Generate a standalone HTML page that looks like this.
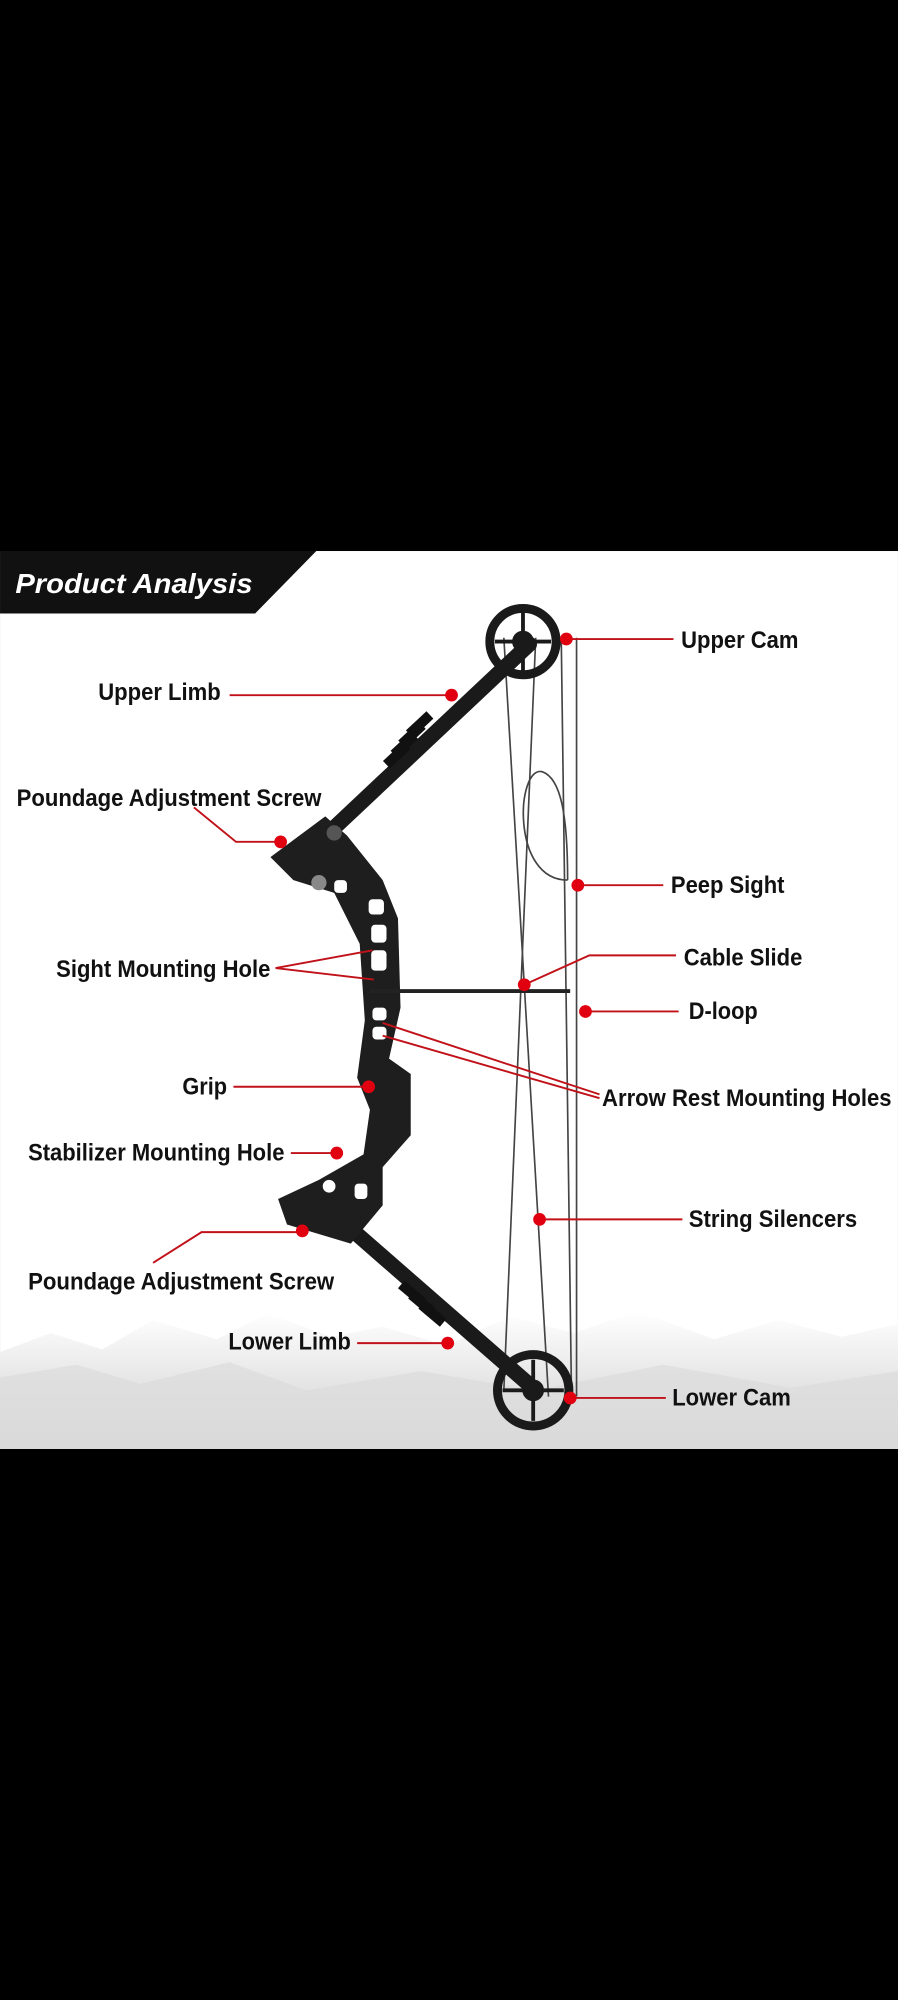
<!DOCTYPE html>
<html><head><meta charset="utf-8"><style>
html,body{margin:0;padding:0;background:#000;}
svg{display:block;}
text{font-family:"Liberation Sans",sans-serif;font-weight:bold;font-size:19px;fill:#111;}
</style></head><body>
<svg width="898" height="2000" viewBox="0 0 704 1568" xmlns="http://www.w3.org/2000/svg">
<defs>
<linearGradient id="mt" x1="0" y1="0" x2="0" y2="1">
<stop offset="0" stop-color="#fff"/><stop offset="0.5" stop-color="#e6e6e6"/><stop offset="1" stop-color="#d4d4d4"/>
</linearGradient>
</defs>
<rect x="0" y="0" width="704" height="1568" fill="#000"/>
<rect x="0" y="432" width="704" height="704" fill="#fff"/>
<path d="M0 1136 L0 1060 L40 1045 L80 1058 L120 1035 L170 1050 L210 1030 L260 1048 L300 1040 L350 1055 L400 1032 L450 1045 L500 1028 L560 1050 L610 1035 L660 1048 L704 1038 L704 1136 Z" fill="url(#mt)"/>
<path d="M0 1080 L60 1070 L110 1085 L180 1068 L240 1090 L330 1075 L420 1090 L520 1070 L620 1088 L704 1075 L704 1136 L0 1136Z" fill="#dcdcdc" opacity="0.7"/>
<polygon points="0,432 248,432 200,481 0,481" fill="#111"/>
<text x="12" y="465" textLength="186" lengthAdjust="spacingAndGlyphs" style="font-style:italic;font-size:22px;fill:#fff">Product Analysis</text>
<g stroke="#444" stroke-width="1.3" fill="none">
<line x1="440" y1="500" x2="448" y2="1092"/>
<line x1="452" y1="500" x2="452" y2="1095"/>
<line x1="395" y1="500" x2="430" y2="1095"/>
<line x1="420" y1="500" x2="395" y2="1090"/>
<path d="M445 690 C400 690 405 600 425 605 C440 610 445 640 445 690"/>
</g>
<g stroke="#1a1a1a" stroke-linecap="round" fill="none">
<line x1="245" y1="665" x2="415" y2="505" stroke-width="12"/>
<line x1="262" y1="952" x2="420" y2="1090" stroke-width="12"/>
</g>
<g fill="#111">
<rect x="318" y="564" width="22" height="8" transform="rotate(-43 329 568)"/>
<rect x="312" y="572" width="22" height="8" transform="rotate(-43 323 576)"/>
<rect x="306" y="580" width="22" height="8" transform="rotate(-43 317 584)"/>
<rect x="300" y="588" width="22" height="8" transform="rotate(-43 311 592)"/>
<rect x="312" y="1010" width="22" height="8" transform="rotate(40 323 1014)"/>
<rect x="320" y="1018" width="22" height="8" transform="rotate(40 331 1022)"/>
<rect x="328" y="1026" width="22" height="8" transform="rotate(40 339 1030)"/>
</g>
<path d="M212 672 L255 640 L272 655 L300 690 L312 720 L314 790 L305 830 L322 842 L322 890 L300 915 L300 945 L275 975 L225 960 L218 940 L250 925 L285 905 L290 870 L280 845 L286 800 L282 740 L262 700 L230 690 Z" fill="#1e1e1e"/>
<g fill="#fff">
<rect x="289" y="705" width="12" height="12" rx="3"/>
<rect x="291" y="725" width="12" height="14" rx="3"/>
<rect x="291" y="745" width="12" height="16" rx="3"/>
<rect x="292" y="790" width="11" height="10" rx="3"/>
<rect x="292" y="805" width="11" height="10" rx="3"/>
<rect x="262" y="690" width="10" height="10" rx="3"/>
<rect x="278" y="928" width="10" height="12" rx="3"/>
<circle cx="258" cy="930" r="5"/>
</g>
<circle cx="250" cy="692" r="6" fill="#888"/>
<circle cx="262" cy="653" r="6" fill="#555"/>
<line x1="290" y1="777" x2="447" y2="777" stroke="#222" stroke-width="3"/>
<g fill="none" stroke="#1a1a1a">
<circle cx="410" cy="503" r="26" stroke-width="7"/>
<circle cx="410" cy="503" r="8" fill="#1a1a1a"/>
<line x1="410" y1="480" x2="410" y2="526" stroke-width="3"/>
<line x1="388" y1="503" x2="432" y2="503" stroke-width="3"/>
<circle cx="418" cy="1090" r="28" stroke-width="7"/>
<circle cx="418" cy="1090" r="8" fill="#1a1a1a"/>
<line x1="418" y1="1066" x2="418" y2="1114" stroke-width="3"/>
<line x1="394" y1="1090" x2="442" y2="1090" stroke-width="3"/>
</g>
<g stroke="#c1121a" stroke-width="1.5" fill="none">
<line x1="444" y1="501" x2="528" y2="501"/>
<line x1="180" y1="545" x2="354" y2="545"/>
<polyline points="152,633 185,660 220,660"/>
<line x1="453" y1="694" x2="520" y2="694"/>
<polyline points="530,749 462,749 411,772"/>
<line x1="459" y1="793" x2="532" y2="793"/>
<line x1="216" y1="759" x2="292" y2="745"/>
<line x1="216" y1="759" x2="293" y2="768"/>
<line x1="470" y1="858" x2="300" y2="802"/>
<line x1="470" y1="861" x2="300" y2="812"/>
<line x1="183" y1="852" x2="289" y2="852"/>
<line x1="228" y1="904" x2="264" y2="904"/>
<line x1="423" y1="956" x2="535" y2="956"/>
<polyline points="120,990 158,966 237,966"/>
<line x1="280" y1="1053" x2="351" y2="1053"/>
<line x1="447" y1="1096" x2="522" y2="1096"/>
</g>
<g fill="#e0000f">
<circle cx="444" cy="501" r="5"/><circle cx="354" cy="545" r="5"/><circle cx="220" cy="660" r="5"/>
<circle cx="453" cy="694" r="5"/><circle cx="411" cy="772" r="5"/><circle cx="459" cy="793" r="5"/>
<circle cx="289" cy="852" r="5"/><circle cx="264" cy="904" r="5"/><circle cx="423" cy="956" r="5"/>
<circle cx="237" cy="965" r="5"/><circle cx="351" cy="1053" r="5"/><circle cx="447" cy="1096" r="5"/>
</g>
<g lengthAdjust="spacingAndGlyphs">
<text x="534" y="508" textLength="92" lengthAdjust="spacingAndGlyphs">Upper Cam</text>
<text x="77" y="549" textLength="96" lengthAdjust="spacingAndGlyphs">Upper Limb</text>
<text x="13" y="632" textLength="239" lengthAdjust="spacingAndGlyphs">Poundage Adjustment Screw</text>
<text x="526" y="700" textLength="89" lengthAdjust="spacingAndGlyphs">Peep Sight</text>
<text x="536" y="757" textLength="93" lengthAdjust="spacingAndGlyphs">Cable Slide</text>
<text x="540" y="799" textLength="54" lengthAdjust="spacingAndGlyphs">D-loop</text>
<text x="44" y="766" textLength="168" lengthAdjust="spacingAndGlyphs">Sight Mounting Hole</text>
<text x="472" y="867" textLength="227" lengthAdjust="spacingAndGlyphs">Arrow Rest Mounting Holes</text>
<text x="143" y="858" textLength="35" lengthAdjust="spacingAndGlyphs">Grip</text>
<text x="22" y="910" textLength="201" lengthAdjust="spacingAndGlyphs">Stabilizer Mounting Hole</text>
<text x="540" y="962" textLength="132" lengthAdjust="spacingAndGlyphs">String Silencers</text>
<text x="22" y="1011" textLength="240" lengthAdjust="spacingAndGlyphs">Poundage Adjustment Screw</text>
<text x="179" y="1058" textLength="96" lengthAdjust="spacingAndGlyphs">Lower Limb</text>
<text x="527" y="1102" textLength="93" lengthAdjust="spacingAndGlyphs">Lower Cam</text>
</g>
</svg>
</body></html>
